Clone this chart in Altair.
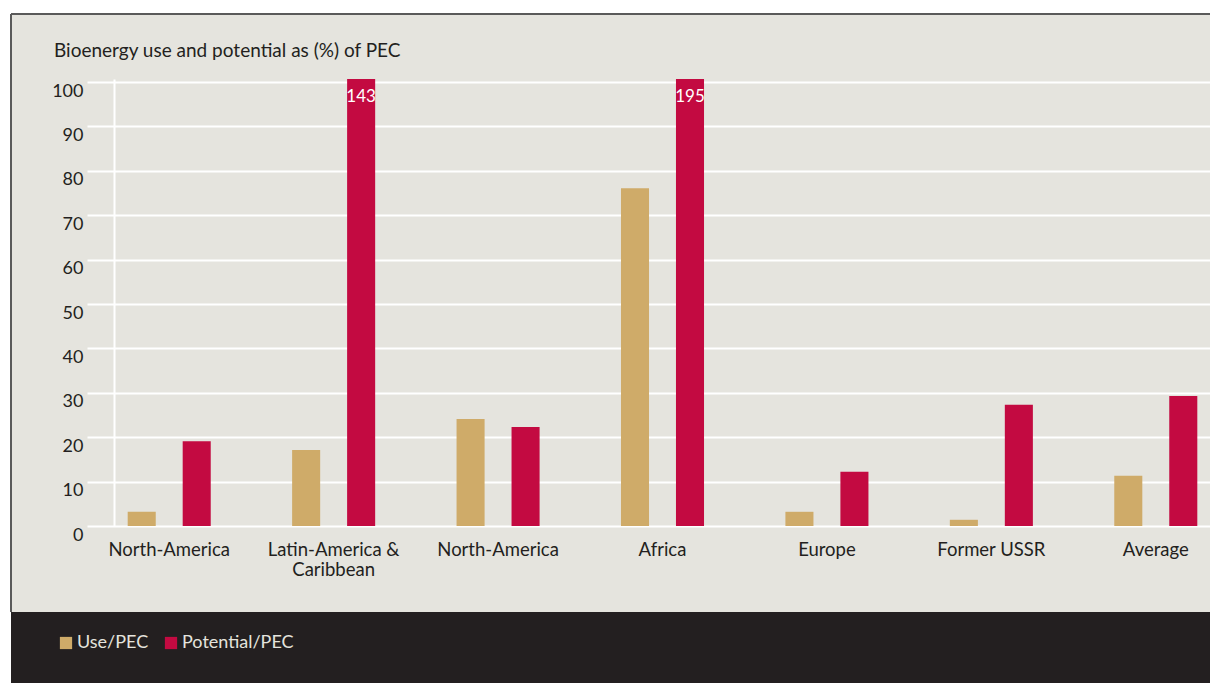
import json
import altair as alt
import pandas as pd

# ---- data ----
regions = ["North-America", "Latin-America & Caribbean", "North-America",
           "Africa", "Europe", "Former USSR", "Average"]
tick_labels = [["North-America"], ["Latin-America &", "Caribbean"], ["North-America"],
               ["Africa"], ["Europe"], ["Former USSR"], ["Average"]]
use_pec = [3.2, 17.1, 24.1, 76.1, 3.2, 1.4, 11.3]
potential_pec = [19.1, 143, 22.3, 195, 12.2, 27.3, 29.3]
series = ["Use/PEC", "Potential/PEC"]
colors = ["#cfab69", "#c30a41"]
y_ticks = [0, 10, 20, 30, 40, 50, 60, 70, 80, 90, 100]
title_text = "Bioenergy use and potential as (%) of PEC"

rows = []
for i, r in enumerate(regions):
    rows.append({"idx": i, "region": r, "series": series[0], "value": use_pec[i]})
    rows.append({"idx": i, "region": r, "series": series[1], "value": potential_pec[i]})
df = pd.DataFrame(rows)

FONT = "Lato"
INK = "#231f20"
PANEL = "#e5e4de"
W, H = 1096, 447

x_enc = alt.X(
    "idx:O",
    scale=alt.Scale(range=[-27, 1124], paddingInner=0, paddingOuter=0),
    axis=alt.Axis(
        title=None, domain=False, ticks=False, labelAngle=0,
        labelExpr=json.dumps(tick_labels) + "[datum.value]",
        labelFont=FONT, labelFontSize=18.5, labelColor=INK,
        labelPadding=14, labelLineHeight=20, labelBaseline="top",
    ),
)
xoff = alt.XOffset("series:N", sort=series,
                   scale=alt.Scale(paddingInner=0.49, paddingOuter=0.74))
y_scale = alt.Scale(domain=[0, 100.7], nice=False, zero=True)

bars = alt.Chart(df).mark_bar(clip=True).encode(
    x=x_enc,
    xOffset=xoff,
    y=alt.Y("value:Q", scale=y_scale,
            axis=alt.Axis(title=None, values=y_ticks, ticks=False,
                          domainColor="white", domainWidth=2,
                          gridColor="white", gridWidth=2, gridOpacity=1,
                          labelFont=FONT, labelFontSize=18, labelColor=INK,
                          labelPadding=31, labelOffset=9, labelFlush=False)),
    color=alt.Color("series:N", sort=series,
                    scale=alt.Scale(domain=series, range=colors),
                    legend=alt.Legend(
                        orient="none", legendX=-57, legendY=555,
                        direction="horizontal", title=None,
                        symbolType="square", symbolSize=150, symbolStrokeWidth=0,
                        symbolOpacity=1,
                        labelFont=FONT, labelFontSize=18, labelColor=PANEL,
                        labelOffset=2, columnPadding=13, padding=0)),
)

over = alt.Chart(df).transform_filter("datum.value > 100").transform_calculate(
    ypos="100", txt="format(datum.value, 'd')"
).mark_text(baseline="top", dy=7, color="white", font=FONT, fontSize=17).encode(
    x=alt.X("idx:O"),
    xOffset=alt.XOffset("series:N", sort=series),
    y=alt.Y("ypos:Q", scale=y_scale),
    text="txt:N",
)

one = pd.DataFrame({"k": [0]})
title = alt.Chart(pd.DataFrame({"t": [title_text]})).mark_text(
    align="left", baseline="alphabetic", font=FONT, fontSize=19, color=INK
).encode(x=alt.value(-60), y=alt.value(-22), text="t:N")
white_top = alt.Chart(one).mark_rect(color="white").encode(
    x=alt.value(-106), x2=alt.value(1096), y=alt.value(-71), y2=alt.value(-65))
white_left = alt.Chart(one).mark_rect(color="white").encode(
    x=alt.value(-106), x2=alt.value(-103), y=alt.value(-71), y2=alt.value(604))
band = alt.Chart(one).mark_rect(color=INK).encode(
    x=alt.value(-103), x2=alt.value(1096), y=alt.value(533), y2=alt.value(604))
edge_top = alt.Chart(one).mark_rule(color="#5a5a5a", strokeWidth=2).encode(
    x=alt.value(-103), x2=alt.value(1096), y=alt.value(-65))
edge_left = alt.Chart(one).mark_rule(color="#5a5a5a", strokeWidth=2).encode(
    x=alt.value(-103), y=alt.value(-65), y2=alt.value(533))

chart = alt.layer(white_top, white_left, band, edge_top, edge_left, title, bars, over).properties(
    width=W, height=H,
    background=PANEL,
    padding={"left": 106, "top": 71, "right": 0, "bottom": 157},
    autosize=alt.AutoSizeParams(type="none"),
).configure_view(stroke=None)

chart.save("out.html", embed_options={"renderer": "svg", "actions": False})
